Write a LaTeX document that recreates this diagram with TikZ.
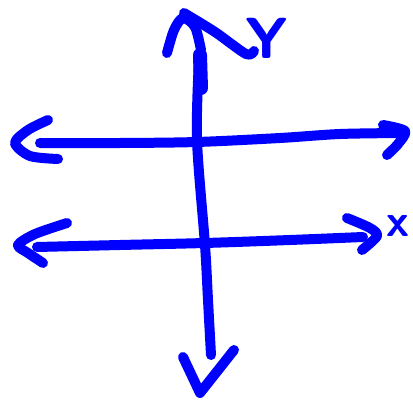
\documentclass[tikz,border=0pt]{standalone}
\usepackage{tikz}
\usetikzlibrary{calc}

\tikzset{pen/.style={color=blue, line width=10pt, line cap=round, line join=round}}

\begin{document}
\begin{tikzpicture}[x=1pt,y=-1pt]
\useasboundingbox (0,0) rectangle (413,401);
% vertical axis
\draw[pen] plot[smooth] coordinates {(200,88) (199,60) (197,140) (205,245) (208,300) (211,355)};
\draw[pen, line width=14pt] (200,55) -- (201,88);
\draw[pen] plot[smooth] coordinates {(167,53) (174,30) (183,18) (195,27) (201,50)};
\draw[pen] (183,357) -- (200,393) -- (234,350);
\draw[pen] plot[smooth] coordinates {(184,13) (215,32) (246,54) (254,51)};
% upper horizontal line
\draw[pen] plot[smooth] coordinates {(40,143) (120,143) (197,142) (280,138) (340,134) (403,133)};
\draw[pen] plot[smooth] coordinates {(48,120) (28,130) (15,143) (30,156) (58,159)};
\draw[pen] plot[smooth] coordinates {(383,125) (405,131) (398,144) (387,155)};
% lower horizontal line
\draw[pen] plot[smooth] coordinates {(37,247) (120,245) (205,243) (290,240) (363,237)};
\draw[pen] plot[smooth] coordinates {(67,223) (35,234) (18,245) (28,253) (43,263)};
\draw[pen] plot[smooth] coordinates {(347,218) (370,228) (377,236) (362,250)};
% labels
\path (267,38) node[blue, font=\fontsize{58}{58}\selectfont\sffamily\bfseries] (ylab) {Y};
\path (398,226) node[blue, font=\fontsize{46}{46}\selectfont\sffamily\bfseries] (xlab) {x};
\end{tikzpicture}
\end{document}
